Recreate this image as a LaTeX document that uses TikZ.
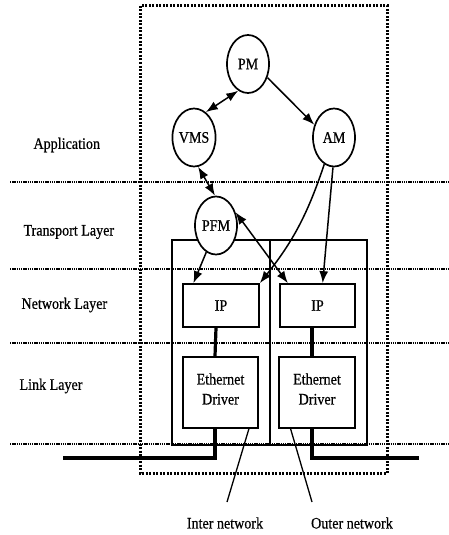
\documentclass[tikz,border=0pt]{standalone}
\usepackage{fontspec}
\setmainfont{Liberation Serif}[FakeStretch=0.88,FakeBold=0.5]
\usetikzlibrary{shapes.geometric,arrows.meta,calc}

\begin{document}
\begin{tikzpicture}[x=1pt,y=-1pt,
  every node/.style={font=\fontsize{16}{17}\selectfont},
  module/.style={ellipse,draw,fill=white,line width=1.7pt,minimum width=42pt,minimum height=58pt,inner sep=0pt},
  block/.style={draw,line width=1.7pt,inner sep=0pt},
  hostbox/.style={draw,line width=1.5pt},
  layerline/.style={line width=1.1pt,dash pattern=on 1.4pt off 0.8pt},
  outerframe/.style={line width=3pt,dash pattern=on 2pt off 1.5pt},
  pointer/.style={line width=1.3pt},
  singlearrow/.style={line width=1.5pt,-{Latex[length=12pt,width=9pt]}},
  doublearrow/.style={line width=1.5pt,{Latex[length=12pt,width=9pt]}-{Latex[length=12pt,width=9pt]}},
  wire/.style={line width=3.2pt},
  layerlabel/.style={anchor=west}
]
\useasboundingbox (0,0) rectangle (448,535);

% layer separators
\foreach \yy in {182,269,343,444}
  \draw[layerline] (10,\yy) -- (448,\yy);

% layer names
\node[layerlabel] (lapp) at (30,145) {Application};
\node[layerlabel] (ltra) at (20,232) {Transport Layer};
\node[layerlabel] (lnet) at (18,305) {Network Layer};
\node[layerlabel] (llnk) at (16,386) {Link Layer};

% the two network interface hosts, sharing one wall
\draw[hostbox] (172,240) rectangle (367,445);
\draw[hostbox] (270,240) -- (270,445);

% system boundary
\draw[outerframe] (140,6) rectangle (387,473);

% modules
\node[module] (PM)  at (248,64)    {PM};
\node[module] (VMS) at (194,137.5) {VMS};
\node[module] (AM)  at (334,137.5) {AM};
\node[module] (PFM) at (216,225.5) {PFM};

\node[block,minimum width=76pt,minimum height=43pt] (ipL) at (221,305.5) {IP};
\node[block,minimum width=75pt,minimum height=43pt] (ipR) at (317.5,305.5) {IP};
\node[block,minimum width=75pt,minimum height=71pt] (ethL) at (220.5,392.5) {};
\node[block,minimum width=76pt,minimum height=71pt] (ethR) at (317,392.5) {};
\node[align=center] (ethLtxt) at (220.5,389) {Ethernet\\[3pt]Driver};
\node[align=center] (ethRtxt) at (317,389) {Ethernet\\[3pt]Driver};

% control and data flows
\draw[doublearrow] (VMS.65) -- (PM.250);
\draw[singlearrow] (PM.-35) -- (AM.147);
\draw[doublearrow] (VMS.-82) -- (PFM.92);
\draw[singlearrow] (AM.250) to[bend left=10] (ipL.north east);
\draw[singlearrow] (AM.-92) -- (ipR.77);
\draw[singlearrow] (PFM.-110) -- (ipL.141);
\draw[doublearrow] (PFM.34) -- (ipR.143);

% IP to driver
\draw[wire] ([xshift=-5pt]ipL.south) -- ([xshift=-5.5pt]ethL.north);
\draw[wire] ([xshift=-5.5pt]ipR.south) -- ([xshift=-5pt]ethR.north);

% physical networks
\coordinate (netL) at (63,458);
\coordinate (netR) at (419,458);
\draw[wire] ([xshift=-5.5pt]ethL.south) |- (netL);
\draw[wire] ([xshift=-5pt]ethR.south) |- (netR);

% network captions
\coordinate (innerTip) at (227,502);
\coordinate (outerTip) at (312,502);
\draw[pointer] (ethL.-52) -- (innerTip);
\draw[pointer] (ethR.-126) -- (outerTip);
\node (innerlbl) at (225,523) {Inter network};
\node (outerlbl) at (352,523) {Outer network};
\end{tikzpicture}
\end{document}
